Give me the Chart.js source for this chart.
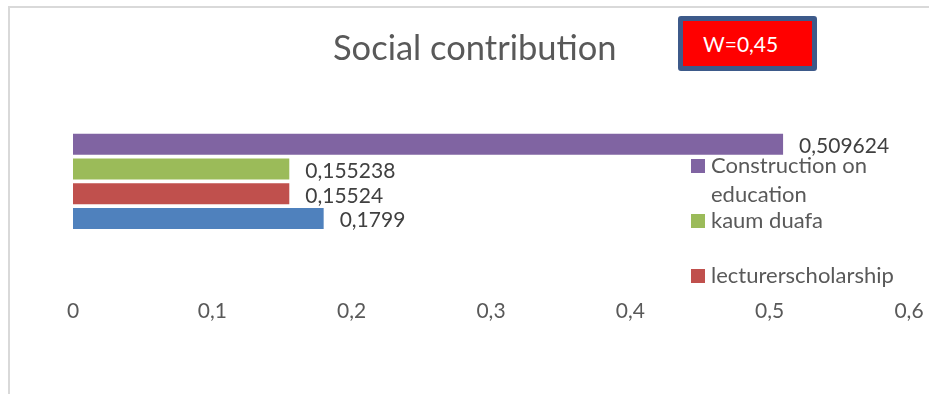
<!DOCTYPE html>
<html>
<head>
<meta charset="utf-8">
<title>Social contribution</title>
<script src="https://cdn.jsdelivr.net/npm/chart.js@4.4.1/dist/chart.umd.min.js"></script>
<style>
  html, body { margin: 0; padding: 0; background: #fff; }
  .wrap { position: relative; width: 929px; height: 394px; overflow: hidden; font-family: Lato, "Open Sans", sans-serif; }
  .frame { position: absolute; left: 8px; top: 6px; width: 960px; height: 420px; border: 2px solid #d9d9d9; }
  .title { position: absolute; left: 333px; top: 26px; font-size: 34.5px; color: #595959; white-space: nowrap; }
  .wbox { position: absolute; left: 678px; top: 16px; width: 129px; height: 45px; background: #ff0000; border: 5px solid #3d5a8a; border-radius: 3px; }
  .wbox span { position: absolute; left: 20px; top: 10px; font-size: 21px; color: #fff; }
  #chart { position: absolute; left: 0; top: 0; }
</style>
</head>
<body>
<div class="wrap">
  <div class="frame"></div>
  <canvas id="chart" width="929" height="394"></canvas>
  <div class="title">Social contribution</div>
  <div class="wbox"><span>W=0,45</span></div>
</div>
<script>
// data (top to bottom as drawn)
const categories = ['Social contribution'];
const seriesNames = ['Construction on education', 'kaum duafa', 'lecturerscholarship', ''];
const seriesValues = [0.509624, 0.155238, 0.15524, 0.1799];
const seriesColors = ['#8064A2', '#9BBB59', '#C0504D', '#4F81BD'];
const tickLabels = ['0', '0,1', '0,2', '0,3', '0,4', '0,5', '0,6'];

const fontFamily = 'Lato, "Open Sans", sans-serif';

// value labels at the end of each bar
const valueLabels = {
    id: 'valueLabels',
    afterDatasetsDraw(chart) {
        const ctx = chart.ctx;
        ctx.save();
        ctx.font = '21px ' + fontFamily;
        ctx.fillStyle = '#404040';
        ctx.textBaseline = 'middle';
        chart.data.datasets.forEach((ds, i) => {
            const bar = chart.getDatasetMeta(i).data[0];
            ctx.fillText(String(ds.data[0]).replace('.', ','), bar.x + 16, bar.y + 2);
        });
        ctx.restore();
    }
};

// legend as in the original: cut off, overlapping the plot
const sideLegend = {
    id: 'sideLegend',
    afterDraw(chart) {
        const ctx = chart.ctx;
        const x = 691, top = 173, pitch = 55, lineH = 29, maxW = 195;
        ctx.save();
        ctx.font = '22px ' + fontFamily;
        ctx.textBaseline = 'alphabetic';
        chart.data.datasets.forEach((ds, i) => {
            if (!ds.label) return;
            const y = top + i * pitch;
            ctx.fillStyle = ds.backgroundColor;
            ctx.fillRect(x, y - 14, 14, 14);
            // simple word wrap
            const lines = [];
            let line = '';
            ds.label.split(' ').forEach(w => {
                const t = line ? line + ' ' + w : w;
                if (ctx.measureText(t).width > maxW && line) { lines.push(line); line = w; }
                else line = t;
            });
            lines.push(line);
            ctx.fillStyle = '#595959';
            lines.forEach((l, k) => ctx.fillText(l, x + 20, y + k * lineH));
        });
        ctx.restore();
    }
};

new Chart(document.getElementById('chart').getContext('2d'), {
    type: 'bar',
    data: {
        labels: categories,
        datasets: seriesNames.map((name, i) => ({
            label: name,
            data: [seriesValues[i]],
            backgroundColor: seriesColors[i],
            borderWidth: 0,
            categoryPercentage: 0.44,
            barPercentage: 0.845
        }))
    },
    options: {
        indexAxis: 'y',
        responsive: false,
        animation: false,
        layout: { padding: { left: 73, right: 20, top: 69, bottom: 65 } },
        plugins: { legend: { display: false }, title: { display: false }, tooltip: { enabled: false } },
        scales: {
            y: { display: false },
            x: {
                min: 0, max: 0.6,
                grid: { display: false, drawTicks: false },
                border: { display: false },
                ticks: {
                    stepSize: 0.1,
                    padding: 5,
                    color: '#595959',
                    font: { family: fontFamily, size: 21 },
                    callback: (v, i) => tickLabels[i]
                }
            }
        }
    },
    plugins: [valueLabels, sideLegend]
});
</script>
</body>
</html>
